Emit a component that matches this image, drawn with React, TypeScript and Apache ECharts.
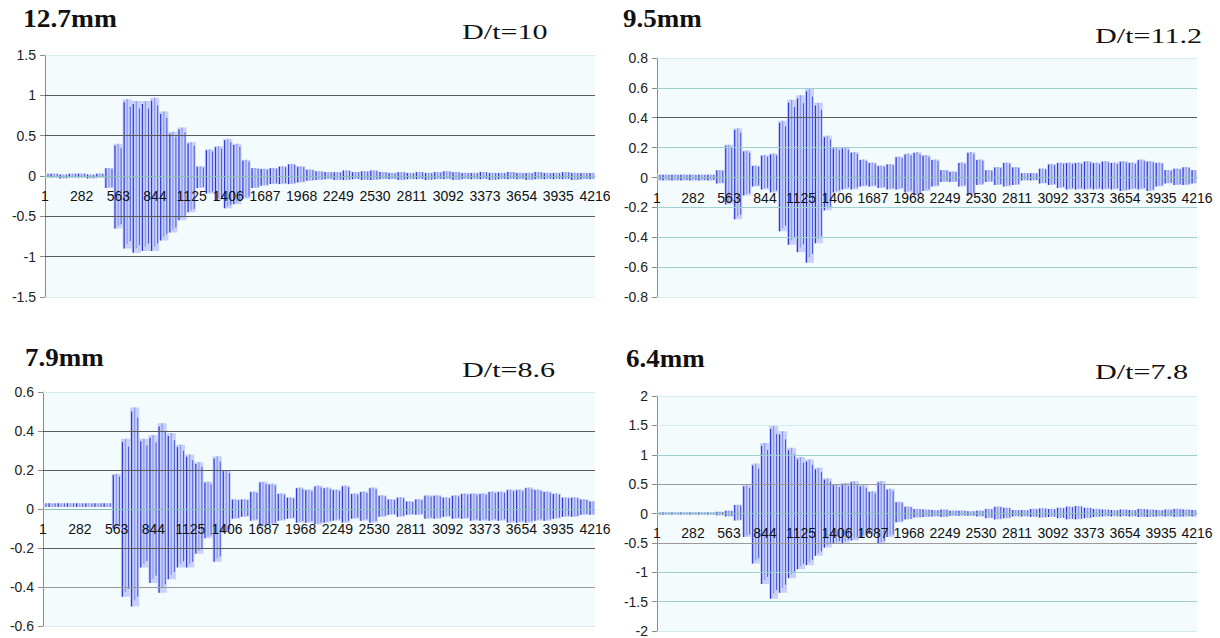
import React, { useEffect, useRef } from "react";
import * as echarts from "echarts";

// sample index (x) of each envelope reading
const samples = [
  0, 70, 140, 210, 280, 350, 420, 490, 560, 630,
  700, 770, 840, 910, 980, 1050, 1120, 1190, 1260, 1330,
  1400, 1470, 1540, 1610, 1680, 1750, 1820, 1890, 1960, 2030,
  2100, 2170, 2240, 2310, 2380, 2450, 2520, 2590, 2660, 2730,
  2800, 2870, 2940, 3010, 3080, 3150, 3220, 3290, 3360, 3430,
  3500, 3570, 3640, 3710, 3780, 3850, 3920, 3990, 4060, 4130,
  4200,
];

// 12.7 mm, D/t = 10
const p1Upper = [
  0.03, 0.03, 0.02, 0.03, 0.03, 0.02, 0.03, 0.1, 0.4, 0.95,
  0.93, 0.93, 0.97, 0.8, 0.55, 0.6, 0.42, 0.12, 0.33, 0.37,
  0.46, 0.4, 0.2, 0.1, 0.09, 0.1, 0.12, 0.15, 0.12, 0.08,
  0.06, 0.05, 0.05, 0.07, 0.05, 0.06, 0.07, 0.05, 0.04, 0.05,
  0.04, 0.05, 0.04, 0.05, 0.06, 0.05, 0.04, 0.04, 0.05, 0.04,
  0.04, 0.05, 0.04, 0.04, 0.05, 0.04, 0.04, 0.05, 0.04, 0.04,
  0.04,
];
const p1Lower = [
  -0.02, -0.02, -0.03, -0.02, -0.02, -0.03, -0.02, -0.15, -0.65, -0.9,
  -0.95, -0.93, -0.93, -0.8, -0.7, -0.55, -0.45, -0.15, -0.22, -0.3,
  -0.4, -0.35, -0.28, -0.15, -0.12, -0.1, -0.1, -0.1, -0.08, -0.06,
  -0.05, -0.04, -0.05, -0.05, -0.04, -0.05, -0.05, -0.04, -0.04, -0.05,
  -0.04, -0.04, -0.05, -0.04, -0.04, -0.05, -0.04, -0.04, -0.04, -0.05,
  -0.04, -0.04, -0.04, -0.05, -0.04, -0.04, -0.04, -0.04, -0.05, -0.04,
  -0.04,
];

// 9.5 mm, D/t = 11.2
const p2Upper = [
  0.02, 0.02, 0.02, 0.02, 0.02, 0.02, 0.02, 0.05, 0.22, 0.33,
  0.18, 0.08, 0.15, 0.16, 0.38, 0.52, 0.55, 0.6, 0.5, 0.28,
  0.2, 0.2, 0.17, 0.12, 0.1, 0.08, 0.09, 0.14, 0.16, 0.17,
  0.15, 0.12, 0.05, 0.04, 0.1, 0.17, 0.12, 0.05, 0.07, 0.1,
  0.07, 0.03, 0.03, 0.06, 0.09, 0.1, 0.1, 0.1, 0.11, 0.1,
  0.11, 0.1, 0.11, 0.1, 0.12, 0.11, 0.1, 0.05, 0.06, 0.07,
  0.05,
];
const p2Lower = [
  -0.02, -0.02, -0.02, -0.02, -0.02, -0.02, -0.02, -0.04, -0.18, -0.28,
  -0.12, -0.06, -0.08, -0.1, -0.36, -0.45, -0.5, -0.57, -0.44, -0.22,
  -0.1, -0.08, -0.08, -0.06, -0.06, -0.07, -0.08, -0.08, -0.1, -0.12,
  -0.09, -0.06, -0.03, -0.03, -0.06, -0.12, -0.05, -0.03, -0.05, -0.06,
  -0.05, -0.02, -0.02, -0.04, -0.05, -0.07, -0.08, -0.08, -0.08, -0.08,
  -0.08, -0.08, -0.09, -0.08, -0.08, -0.09, -0.06, -0.04, -0.05, -0.05,
  -0.04,
];

// 7.9 mm, D/t = 8.6
const p3Upper = [
  0.03, 0.03, 0.03, 0.03, 0.03, 0.03, 0.03, 0.03, 0.18, 0.36,
  0.52, 0.36, 0.38, 0.44, 0.39, 0.33, 0.28, 0.24, 0.14, 0.27,
  0.2, 0.05, 0.05, 0.09, 0.14, 0.13, 0.08, 0.06, 0.11, 0.1,
  0.12, 0.11, 0.1, 0.12, 0.08, 0.09, 0.11, 0.07, 0.05, 0.06,
  0.04, 0.05, 0.07, 0.07, 0.06, 0.07, 0.08, 0.08, 0.08, 0.09,
  0.09, 0.1, 0.1, 0.11, 0.1, 0.09, 0.08, 0.06, 0.06, 0.05,
  0.04,
];
const p3Lower = [
  0.01, 0.01, 0.01, 0.01, 0.01, 0.01, 0.01, 0.01, -0.1, -0.45,
  -0.5, -0.3, -0.38, -0.43, -0.36, -0.3, -0.3, -0.23, -0.15, -0.27,
  -0.12, -0.05, -0.04, -0.06, -0.09, -0.08, -0.06, -0.05, -0.07, -0.07,
  -0.08, -0.07, -0.06, -0.07, -0.05, -0.06, -0.07, -0.04, -0.03, -0.04,
  -0.03, -0.03, -0.05, -0.05, -0.04, -0.05, -0.05, -0.06, -0.06, -0.06,
  -0.06, -0.07, -0.07, -0.07, -0.06, -0.06, -0.05, -0.04, -0.04, -0.03,
  -0.03,
];

// 6.4 mm, D/t = 7.8
const p4Upper = [
  0.02, 0.02, 0.02, 0.02, 0.02, 0.02, 0.02, 0.03, 0.05, 0.15,
  0.48, 0.85, 1.2, 1.5, 1.4, 1.12, 0.96, 0.92, 0.78, 0.6,
  0.5, 0.52, 0.55, 0.48, 0.38, 0.55, 0.42, 0.2, 0.12, 0.08,
  0.07, 0.06, 0.07, 0.05, 0.05, 0.04, 0.05, 0.08, 0.12, 0.1,
  0.06, 0.06, 0.08, 0.09, 0.08, 0.1, 0.12, 0.13, 0.1, 0.08,
  0.07, 0.06, 0.07, 0.06, 0.08, 0.07, 0.06, 0.07, 0.08, 0.07,
  0.06,
];
const p4Lower = [
  -0.02, -0.02, -0.02, -0.02, -0.02, -0.02, -0.02, -0.03, -0.05, -0.12,
  -0.4, -0.85, -1.2, -1.45, -1.35, -1.1, -0.95, -0.88, -0.72, -0.58,
  -0.52, -0.5, -0.46, -0.4, -0.35, -0.52, -0.4, -0.15, -0.1, -0.07,
  -0.06, -0.05, -0.06, -0.04, -0.04, -0.04, -0.05, -0.08, -0.1, -0.08,
  -0.05, -0.05, -0.06, -0.07, -0.06, -0.08, -0.1, -0.1, -0.08, -0.06,
  -0.05, -0.05, -0.05, -0.05, -0.06, -0.06, -0.05, -0.05, -0.06, -0.05,
  -0.05,
];

const thicknessTitles = ["12.7mm", "9.5mm", "7.9mm", "6.4mm"];
const ratioLabels = ["D/t=10", "D/t=11.2", "D/t=8.6", "D/t=7.8"];

// x tick every 281 samples, labelled 1, 282, 563, ... 4216
const X_STEP = 281;
const X_MAX = 4215;

const DARK = "#5a5a5a";
const TEAL = "#9fd0d0";
const LIGHT = "#d3ecee";
const GRAY = "#9a9a9a";

const panels = [
  {
    upper: p1Upper, lower: p1Lower, yMin: -1.5, yMax: 1.5, yStep: 0.5,
    grid: { left: 45, top: 55, width: 550, height: 242 },
    lines: [[1.5, LIGHT], [1, DARK], [0.5, DARK], [-0.5, DARK], [-1, DARK], [-1.5, LIGHT]],
    title: { x: 23, y: 18.5, sx: 1.1 }, ratio: { x: 462, y: 31 },
  },
  {
    upper: p2Upper, lower: p2Lower, yMin: -0.8, yMax: 0.8, yStep: 0.2,
    grid: { left: 657, top: 58, width: 540, height: 239 },
    lines: [[0.8, LIGHT], [0.6, TEAL], [0.4, DARK], [0.2, TEAL], [-0.2, TEAL], [-0.4, TEAL], [-0.6, TEAL], [-0.8, LIGHT]],
    title: { x: 623, y: 18.5, sx: 1.08 }, ratio: { x: 1095, y: 35 },
  },
  {
    upper: p3Upper, lower: p3Lower, yMin: -0.6, yMax: 0.6, yStep: 0.2,
    grid: { left: 43, top: 392, width: 552, height: 234 },
    lines: [[0.6, LIGHT], [0.4, DARK], [0.2, DARK], [-0.2, DARK], [-0.4, GRAY], [-0.6, LIGHT]],
    title: { x: 25, y: 358, sx: 1.08 }, ratio: { x: 462, y: 369 },
  },
  {
    upper: p4Upper, lower: p4Lower, yMin: -2, yMax: 2, yStep: 0.5,
    grid: { left: 657, top: 396, width: 540, height: 236 },
    lines: [[2, LIGHT], [1.5, LIGHT], [1, TEAL], [0.5, GRAY], [-0.5, GRAY], [-1, TEAL], [-1.5, TEAL], [-2, LIGHT]],
    title: { x: 626, y: 359, sx: 1.08 }, ratio: { x: 1095, y: 371 },
  },
];

export default function App() {
  const ref = useRef<HTMLDivElement>(null);

  useEffect(() => {
    if (!ref.current) return;
    const chart = echarts.init(ref.current, null, { renderer: "svg" });
    const step = samples[1] - samples[0];

    const grids: any[] = [];
    const xAxes: any[] = [];
    const yAxes: any[] = [];
    const series: any[] = [];
    const graphics: any[] = [];

    panels.forEach((p, i) => {
      grids.push({
        ...p.grid,
        show: true,
        backgroundColor: "#f3fbfd",
        borderWidth: 0,
        containLabel: false,
      });
      // place the category axis on the zero line (Excel style)
      const zeroOffset = -p.grid.height * ((0 - p.yMin) / (p.yMax - p.yMin));
      xAxes.push({
        gridIndex: i,
        type: "value",
        position: "bottom",
        offset: zeroOffset,
        z: 20,
        min: 0,
        max: X_MAX,
        interval: X_STEP,
        axisLine: { show: true, onZero: false, lineStyle: { color: "#8cc4bc", width: 1 } },
        axisTick: { show: false },
        splitLine: { show: false },
        axisLabel: {
          formatter: (v: number) => String(v + 1),
          fontSize: 14,
          fontFamily: "Liberation Sans, Arial, sans-serif",
          color: "#111",
          margin: 13,
        },
      });
      yAxes.push({
        gridIndex: i,
        type: "value",
        min: p.yMin,
        max: p.yMax,
        interval: p.yStep,
        axisLine: { show: true, lineStyle: { color: "#8a8a8a", width: 1 } },
        axisTick: { show: true, length: 5, lineStyle: { color: "#8a8a8a" } },
        splitLine: { show: false },
        axisLabel: {
          fontSize: 14,
          fontFamily: "Liberation Sans, Arial, sans-serif",
          color: "#222",
          margin: 9,
        },
      });
      // grid lines
      series.push({
        type: "line",
        xAxisIndex: i,
        yAxisIndex: i,
        data: [],
        z: 1,
        silent: true,
        markLine: {
          silent: true,
          symbol: ["none", "none"],
          label: { show: false },
          animation: false,
          data: p.lines.map(([v, c]) => ({
            yAxis: v,
            lineStyle: { color: c, width: 1.2, type: "solid" },
          })),
        },
      });
      // waveform envelope strokes
      series.push({
        type: "custom",
        xAxisIndex: i,
        yAxisIndex: i,
        z: 3,
        clip: true,
        data: samples.map((s, k) => [s, p.upper[k], p.lower[k]]),
        renderItem: (params: any, api: any) => {
          const x = api.value(0);
          const top = api.coord([x, api.value(1)]);
          const bot = api.coord([x, api.value(2)]);
          const w = api.size([step, 0])[0];
          const h = Math.max(1, bot[1] - top[1]);
          const cx = top[0];
          const stroke = (dx: number, t: number, b: number, color: string, lw: number) => ({
            type: "line",
            shape: { x1: cx + dx, y1: top[1] + h * t, x2: cx + dx, y2: top[1] + h * b },
            style: { stroke: color, lineWidth: lw },
          });
          return {
            type: "group",
            children: [
              {
                type: "rect",
                shape: { x: cx - w / 2, y: top[1], width: w, height: h },
                style: { fill: "#c9d1f8" },
              },
              stroke(-w / 3, 0.02, 1, "#2a3ad3", 1.2),
              stroke(0, 0, 0.97, "#8f9cee", 1.3),
              stroke(w / 3, 0.05, 0.95, "#4555dc", 1),
            ],
          };
        },
      });
      graphics.push({
        type: "text",
        x: p.title.x,
        y: p.title.y,
        scaleX: p.title.sx,
        style: {
          text: thicknessTitles[i],
          font: "bold 25px 'Liberation Serif', 'Times New Roman', serif",
          fill: "#111",
          textVerticalAlign: "middle",
        },
      });
      graphics.push({
        type: "text",
        x: p.ratio.x,
        y: p.ratio.y,
        scaleX: 1.37,
        style: {
          text: ratioLabels[i],
          font: "22px 'Liberation Serif', 'Times New Roman', serif",
          fill: "#111",
          textVerticalAlign: "middle",
        },
      });
    });

    chart.setOption({
      animation: false,
      backgroundColor: "#ffffff",
      grid: grids,
      xAxis: xAxes,
      yAxis: yAxes,
      series,
      graphic: graphics,
    });

    return () => chart.dispose();
  }, []);

  return (
    <div
      ref={ref}
      style={{ position: "absolute", left: 0, top: 0, width: 1220, height: 638 }}
    />
  );
}
